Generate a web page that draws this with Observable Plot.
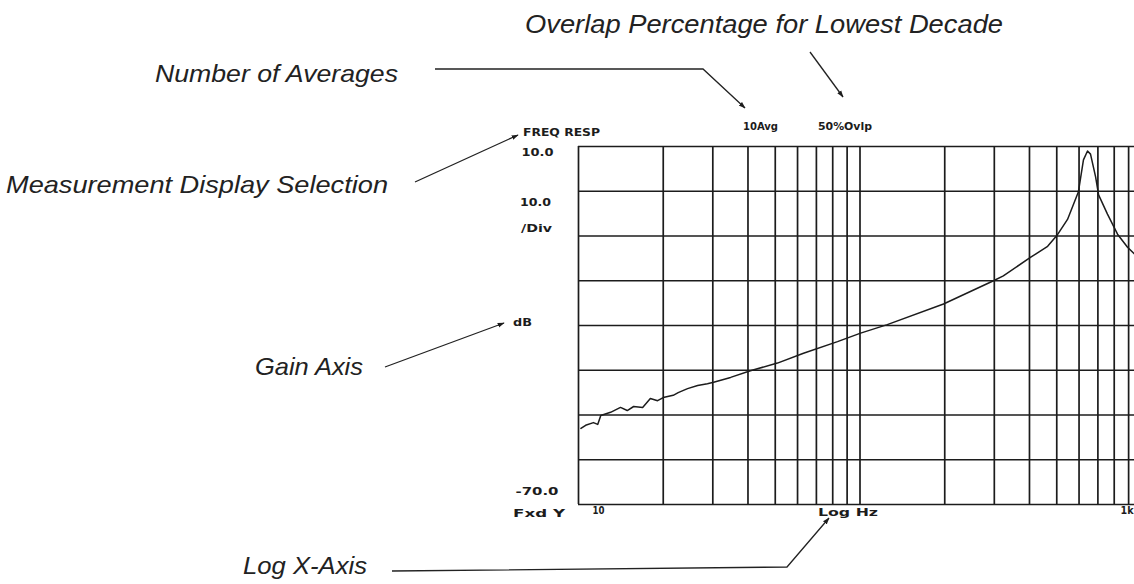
<!DOCTYPE html>
<html><head><meta charset="utf-8">
<script src="https://cdn.jsdelivr.net/npm/d3@7"></script>
<script src="https://cdn.jsdelivr.net/npm/@observablehq/plot@0.6"></script>
<style>html,body{margin:0;padding:0;background:#fff;overflow:hidden}</style>
</head><body><div id="chart"></div>
<script>
// ---- data ----
const freqHz = [10.2,10.6,11.3,11.7,12.0,13.0,14.1,14.9,15.7,16.9,18.0,19.1,20.0,21.7,22.6,24.4,26.5,28.7,30.2,34.7,40.8,50.9,63.0,83.2,100.5,125,198,298,323,403,464,503,546,597,622,643,659,687,704,757,822,892,944,1000];
const gainDb = [-53.0,-52.3,-51.7,-52.1,-50.1,-49.4,-48.3,-49.0,-48.1,-48.3,-46.3,-46.8,-46.1,-45.6,-45.0,-44.1,-43.4,-43.0,-42.7,-41.6,-40.1,-38.4,-36.2,-33.6,-31.7,-29.8,-25.2,-20.0,-18.9,-14.8,-12.3,-9.7,-6.3,-0.1,7.0,9.0,8.3,3.2,-0.8,-5.1,-9.6,-12.5,-14.0,-15.3];
const xGridHz = [10,20,30,40,50,60,70,80,90,100,200,300,400,500,600,700,800,900,1000];
const yGridDb = [-70,-60,-50,-40,-30,-20,-10,0,10];
const yTickValues = [10, -70];
const yTickLabels = ["10.0", "-70.0"];
const xTickValues = [10, 1000];
const xTickLabels = ["10", "1k"];
const headerLabels = ["FREQ RESP", "10Avg", "50%Ovlp", "10.0", "/Div", "dB", "Fxd Y", "Log Hz"];
const annotationLabels = ["Overlap Percentage for Lowest Decade", "Number of Averages", "Measurement Display Selection", "Gain Axis", "Log X-Axis"];

const ink = "#1c1c1c";
const instFont = {fontFamily: "DejaVu Sans", fontWeight: "bold", fontSize: 10, fill: ink};
const data = freqHz.map((f, i) => ({f, db: gainDb[i]}));

const chart = Plot.plot({
  width: 1134, height: 584,
  marginLeft: 578, marginRight: 0, marginTop: 146, marginBottom: 80,
  style: {background: "#fff", fontFamily: "DejaVu Sans"},
  x: {type: "log", domain: [10, 1000], range: [578, 1141], axis: null},
  y: {domain: [-70, 10], axis: null},
  marks: [
    Plot.ruleX(xGridHz, {stroke: ink, strokeWidth: 1.7}),
    Plot.ruleY(yGridDb, {stroke: ink, strokeWidth: 1.7}),
    Plot.line(data, {x: "f", y: "db", stroke: ink, strokeWidth: 1.5, clip: true}),
    Plot.text([0], {y: i => yTickValues[i], text: i => yTickLabels[i], frameAnchor: "left", textAnchor: "end", dx: -25, dy: 6, ...instFont}),
    Plot.text([1], {y: i => yTickValues[i], text: i => yTickLabels[i], frameAnchor: "left", textAnchor: "end", dx: -20, dy: -13, ...instFont}),
    Plot.text([0], {x: i => xTickValues[i], text: i => xTickLabels[i], frameAnchor: "bottom", textAnchor: "start", dx: 14, dy: 9, ...instFont}),
    Plot.text([1], {x: i => xTickValues[i], text: i => xTickLabels[i], frameAnchor: "bottom", textAnchor: "end", dx: -8, dy: 9, ...instFont})
  ]
});
document.getElementById("chart").appendChild(chart);

// widen the plotter-style tick labels a little, like the instrument font
const tickWidths = {"10.0": 32, "-70.0": 43, "10": 12, "1k": 13};
d3.select(chart).selectAll("text").each(function() {
  const w = tickWidths[this.textContent];
  if (w) d3.select(this).attr("textLength", w).attr("lengthAdjust", "spacingAndGlyphs");
});

// ---- annotation layer (layout) ----
const svg = d3.select(chart);
const defs = svg.append("defs");
defs.append("marker").attr("id", "ah").attr("viewBox", "0 0 10 10")
  .attr("refX", 9).attr("refY", 5).attr("markerWidth", 7).attr("markerHeight", 7)
  .attr("markerUnits", "userSpaceOnUse").attr("orient", "auto")
  .append("path").attr("d", "M0,1.5 L10,5 L0,8.5 z").attr("fill", ink);

const g = svg.append("g").attr("text-anchor", "start");
const headerPos = [[523,136,77],[743,130,35],[818,130,54],[520,206,31],[521,232,31],[513,326,19],[513,517,52],[818,516,60]];
headerLabels.forEach((t, i) => {
  const [x, y, L] = headerPos[i];
  g.append("text").attr("x", x).attr("y", y).text(t)
    .attr("text-anchor", "start")
    .attr("font-family", "DejaVu Sans").attr("font-weight", "bold").attr("font-size", 10)
    .attr("fill", ink).attr("textLength", L).attr("lengthAdjust", "spacingAndGlyphs");
});

const annPos = [[525,33,478,25],[155,82,243,24],[6,193,382,24],[255,375,108,24],[243,574,124,24]];
annotationLabels.forEach((t, i) => {
  const [x, y, L, fs] = annPos[i];
  g.append("text").attr("x", x).attr("y", y).text(t)
    .attr("text-anchor", "start")
    .attr("font-family", "Liberation Sans, Arial, sans-serif").attr("font-style", "italic")
    .attr("font-size", fs).attr("fill", "#222")
    .attr("textLength", L).attr("lengthAdjust", "spacingAndGlyphs");
});

const pointers = [
  [[810,52],[843,97]],
  [[435,69],[703,69],[745,108]],
  [[415,182],[518,135]],
  [[385,367],[504,323]],
  [[392,571],[787,567],[829,518]]
];
pointers.forEach(p => {
  g.append("path").attr("d", d3.line()(p)).attr("fill", "none")
    .attr("stroke", "#222").attr("stroke-width", 1.3).attr("marker-end", "url(#ah)");
});
</script></body></html>
